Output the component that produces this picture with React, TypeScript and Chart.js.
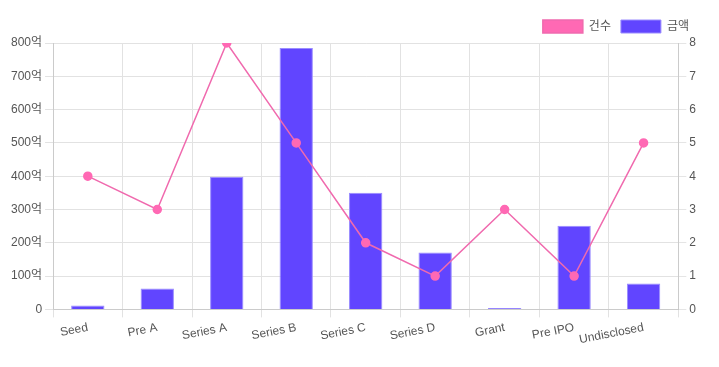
import React, { useEffect, useRef } from "react";
import { Chart, registerables } from "chart.js";

Chart.register(...registerables);

const categories = ["Seed", "Pre A", "Series A", "Series B", "Series C", "Series D", "Grant", "Pre IPO", "Undisclosed"];
const amountValues = [12, 63, 398, 785, 350, 171, 4, 251, 78];
const countValues = [4, 3, 8, 5, 2, 1, 3, 1, 5];
const countLabel = "건수";
const amountLabel = "금액";

export default function App() {
  const ref = useRef<HTMLCanvasElement | null>(null);
  useEffect(() => {
    if (!ref.current) return;
    Chart.defaults.font.family = "'Helvetica Neue', Helvetica, Arial, 'Liberation Sans', 'Noto Sans CJK KR', sans-serif";
    const chart = new Chart(ref.current, {
      type: "bar",
      data: {
        labels: categories,
        datasets: [
          {
            type: "line",
            label: countLabel,
            data: countValues,
            borderColor: "#f06aae",
            backgroundColor: "#ff69b4",
            borderWidth: 1.5,
            pointRadius: 4,
            pointBackgroundColor: "#ff69b4",
            pointBorderColor: "#ff69b4",
            tension: 0,
            yAxisID: "y1",
          } as any,
          {
            type: "bar",
            label: amountLabel,
            data: amountValues,
            backgroundColor: "#6145ff",
            borderColor: "#9a8cff",
            borderWidth: 1,
            categoryPercentage: 0.8,
            barPercentage: 0.6,
            yAxisID: "y",
          },
        ],
      },
      options: {
        animation: false,
        responsive: true,
        maintainAspectRatio: false,
        layout: { padding: { top: 2, right: 12, bottom: 9, left: 0 } },
        plugins: {
          legend: {
            position: "top",
            align: "end",
            labels: { boxWidth: 40, boxHeight: 13, color: "#555", font: { size: 12 } },
          },
          tooltip: { enabled: false },
        },
        scales: {
          x: {
            grid: { color: "#e2e2e2" },
            ticks: { color: "#555", font: { size: 12 }, autoSkip: false, minRotation: 11, maxRotation: 11 },
          },
          y: {
            position: "left",
            min: 0,
            max: 800,
            ticks: {
              stepSize: 100,
              color: "#555",
              font: { size: 12 },
              callback: (v: any) => (Number(v) === 0 ? "0" : v + "억"),
            },
            grid: { color: "#e2e2e2" },
          },
          y1: {
            position: "right",
            min: 0,
            max: 8,
            ticks: { stepSize: 1, color: "#555", font: { size: 12 } },
            grid: { drawOnChartArea: false },
          },
        },
      },
    });
    return () => chart.destroy();
  }, []);
  return (
    <div style={{ width: 703, height: 351 }}>
      <canvas ref={ref} />
    </div>
  );
}
